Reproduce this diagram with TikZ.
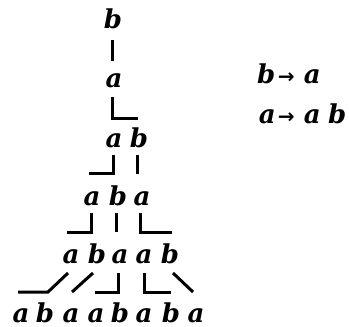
\documentclass[tikz,border=0pt]{standalone}
\usepackage{fontspec}
\setmainfont{DejaVu Serif}
\newfontfamily\arrowfont{DejaVu Sans}
\usetikzlibrary{calc}
\begin{document}
\begin{tikzpicture}[x=1pt,y=-1pt,
  sym/.style={anchor=base,inner sep=0pt,font=\fontsize{26}{26}\selectfont\bfseries\itshape},
  rule/.style={anchor=base west,inner sep=0pt,font=\fontsize{26}{26}\selectfont\bfseries\itshape},
  link/.style={line width=3pt}]
\useasboundingbox (0,0) rectangle (349,327);
% row 1
\node[sym] (r1a) at (113,28) {b};
% row 2
\node[sym] (r2a) at (114,87) {a};
% row 3
\node[sym] (r3a) at (114,147) {a};
\node[sym] (r3b) at (139,147) {b};
% row 4
\node[sym] (r4a) at (92,205) {a};
\node[sym] (r4b) at (118,205) {b};
\node[sym] (r4c) at (142,205) {a};
% row 5
\node[sym] (r5a) at (71,263) {a};
\node[sym] (r5b) at (97,263) {b};
\node[sym] (r5c) at (120,263) {a};
\node[sym] (r5d) at (144,263) {a};
\node[sym] (r5e) at (170,263) {b};
% row 6
\node[sym] (r6a) at (21,322) {a};
\node[sym] (r6b) at (45,322) {b};
\node[sym] (r6c) at (71,322) {a};
\node[sym] (r6d) at (96,322) {a};
\node[sym] (r6e) at (120,322) {b};
\node[sym] (r6f) at (144,322) {a};
\node[sym] (r6g) at (171,322) {b};
\node[sym] (r6h) at (196,322) {a};
% rules
\newcommand\symbox[2]{\makebox[#1][c]{#2}}
\newcommand\rulearrow{{\arrowfont\upshape\bfseries\fontsize{20}{20}\selectfont →}}
\node[rule] (ruleb) at (256,83) {\symbox{20pt}{b}\hspace{3pt}\symbox{14pt}{\rulearrow}\hspace{9pt}\symbox{20pt}{a}};
\node[rule] (rulea) at (257,123) {\symbox{20pt}{a}\hspace{2pt}\symbox{14pt}{\rulearrow}\hspace{9pt}\symbox{20pt}{a}\hspace{5pt}\symbox{20pt}{b}};
% links row 1 -> 2
\draw[link] ($(r1a.base)+(-1,12)$) -- ($(r2a.base)+(-2,-26)$);
% row 2 -> 3
\draw[link] ($(r2a.base)+(-2,10)$) |- ($(r3b.base)+(-1,-29)$);
% row 3 -> 4
\draw[link] ($(r3a.base)+(-1,8)$) |- ($(r4a.base)+(-3,-32)$);
\draw[link] ($(r3b.base)+(-2,8)$) -- ($(r4c.base)+(-5,-31)$);
% row 4 -> 5
\draw[link] ($(r4a.base)+(-1,8)$) |- ($(r5a.base)+(-4,-31)$);
\draw[link] ($(r4b.base)+(-2,8)$) -- ($(r5c.base)+(-4,-31)$);
\draw[link] ($(r4c.base)+(-2,8)$) |- ($(r5e.base)+(2,-31)$);
% row 5 -> 6
\draw[link] ($(r5a.base)+(-3,10)$) -- ($(r6b.base)+(3,-30)$) -- ($(r6a.base)+(-3,-30)$);
\draw[link] ($(r5b.base)+(-4,10)$) -- ($(r6c.base)+(1,-30)$);
\draw[link] ($(r5c.base)+(-2,10)$) |- ($(r6d.base)+(-1,-30)$);
\draw[link] ($(r5d.base)+(0,10)$) |- ($(r6g.base)+(0,-30)$);
\draw[link] ($(r5e.base)+(3,10)$) -- ($(r6h.base)+(-3,-30)$);
\end{tikzpicture}
\end{document}
